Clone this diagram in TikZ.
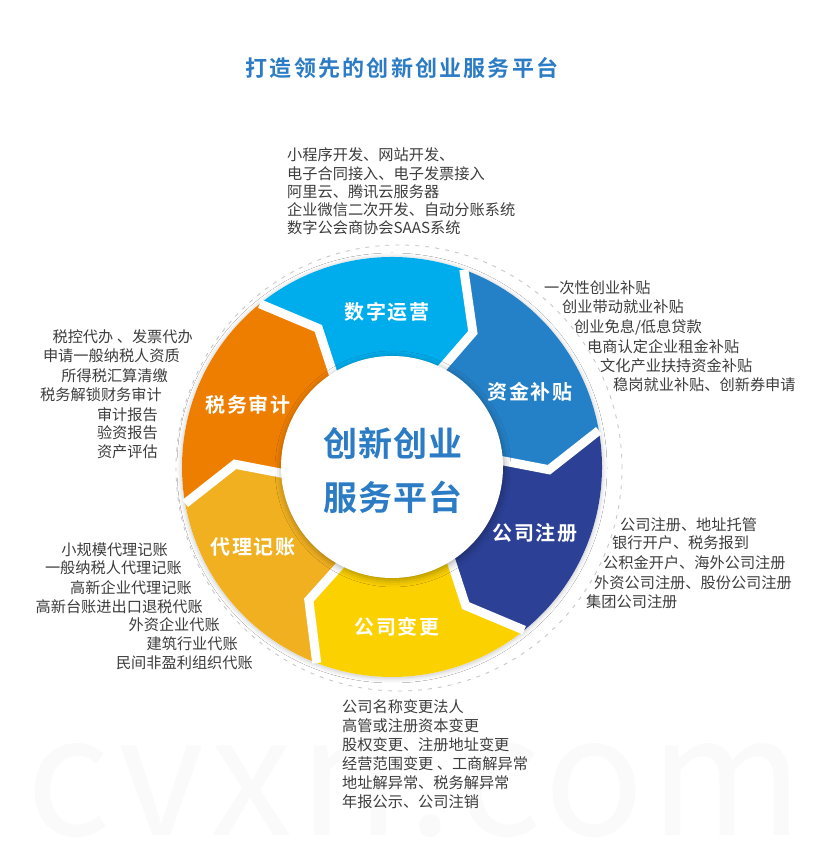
\documentclass[tikz,border=0pt]{standalone}
\usepackage{fontspec}
\setmainfont{Noto Sans CJK SC}[BoldFont={Noto Sans CJK SC Bold}]
\usetikzlibrary{calc, positioning, shadows.blur}

\definecolor{szblue}{HTML}{00ADEC}
\definecolor{zjblue}{HTML}{2581C7}
\definecolor{zcnavy}{HTML}{2C4196}
\definecolor{bgyellow}{HTML}{FCD100}
\definecolor{dlgold}{HTML}{F0B020}
\definecolor{sworange}{HTML}{EE7E00}
\definecolor{titleblue}{HTML}{2B7CC5}
\definecolor{itemgray}{HTML}{3D3D3D}
\definecolor{dashgray}{HTML}{C8C8C8}

\newcommand{\ringout}{210}
\newcommand{\ringmid}{157}
\newcommand{\ringin}{105}

% one arrow piece of the ring, clockwise from angle #1 to angle #2
\newcommand{\ringpiece}[3]{%
  \fill[#3] (#1+6:\ringout) arc[start angle=#1+6, end angle=#2+6, radius=\ringout]
    -- (#2-5:\ringmid) -- (#2:\ringin)
    arc[start angle=#2, end angle=#1, radius=\ringin]
    -- (#1-5:\ringmid) -- cycle;}

\begin{document}
\begin{tikzpicture}[
    x=1pt, y=1pt,
    item/.style={text=itemgray, inner sep=0pt, font=\fontsize{15.2}{15.2}\selectfont},
    piecelabel/.style={text=white, font=\bfseries\fontsize{20}{20}\selectfont\addfontfeature{LetterSpace=8}},
    hubtext/.style={text=titleblue, font=\bfseries\fontsize{34}{34}\selectfont\addfontfeature{LetterSpace=3}},
    hub/.style={circle, fill=white, minimum size=222pt, inner sep=0pt,
        blur shadow={shadow xshift=1pt, shadow yshift=-2pt, shadow blur radius=7pt, shadow opacity=35}}
]
    \fill[white] (0,0) rectangle (831,842);
    \useasboundingbox (0,0) rectangle (831,842);

    % watermark
    \node[text=black!2, anchor=base, font=\fontsize{165}{165}\selectfont\addfontfeature{LetterSpace=4}] (wm) at (415,6) {cvxn.com};

    \node[text=titleblue, font=\bfseries\fontsize{22}{22}\selectfont\addfontfeature{LetterSpace=10}] (title) at (402,774) {打造领先的创新创业服务平台};

    \coordinate (c) at (392,375);
    \coordinate (dc) at (399,374);

    \draw[dashgray, line width=0.9pt, dash pattern=on 4pt off 6pt] (dc) circle[radius=223];
    \fill[white, blur shadow={shadow xshift=0pt, shadow yshift=-1pt, shadow blur radius=5pt, shadow opacity=25}] (c) circle[radius=\ringout];

    % ring
    \begin{scope}[shift={(c)}]
        \ringpiece{123}{64}{szblue}
        \ringpiece{64}{4}{zjblue}
        \ringpiece{4}{-57}{zcnavy}
        \ringpiece{-57}{-117}{bgyellow}
        \ringpiece{-117}{-176}{dlgold}
        \ringpiece{184}{123}{sworange}
        \foreach \a in {123,64,4,-57,-117,184}
            \draw[white, line width=9pt] (\a+6:\ringout) -- (\a-5:\ringmid) -- (\a:\ringin);
    \end{scope}

    \node[hub] (hub) at (c) {};
    \node[hubtext] (hubtop) at (393,399) {创新创业};
    \node[hubtext] (hubbot) at (393,345) {服务平台};

    \node[piecelabel] (sz) at (387,530) {数字运营};
    \node[piecelabel] (zj) at (530,450) {资金补贴};
    \node[piecelabel] (zc) at (535,309) {公司注册};
    \node[piecelabel] (bg) at (397,215) {公司变更};
    \node[piecelabel] (dl) at (253,295) {代理记账};
    \node[piecelabel] (sw) at (248,437) {税务审计};

    % top
    \foreach \t [count=\i from 0] in {小程序开发、网站开发、, 电子合同接入、电子发票接入, 阿里云、腾讯云服务器, 企业微信二次开发、自动分账系统, 数字公会商协会SAAS系统}
        \node[item, anchor=west] (szitem\i) at (287,{687-18.3*\i}) {\t};

    % right
    \foreach \x/\y/\t [count=\i] in {544/554/{一次性创业补贴}, 562/535/{创业带动就业补贴}, 574/515/{创业免息/低息贷款}, 587/495/{电商认定企业租金补贴}, 600/476/{文化产业扶持资金补贴}, 613/457/{稳岗就业补贴、创新券申请}}
        \node[item, anchor=west] (zjitem\i) at (\x,\y) {\t};

    % lower right
    \foreach \x/\y/\t [count=\i] in {620/317/{公司注册、地址托管}, 612/299/{银行开户、税务报到}, 603/279/{公积金开户、海外公司注册}, 594/259/{外资公司注册、股份公司注册}, 586/240/{集团公司注册}}
        \node[item, anchor=west] (zcitem\i) at (\x,\y) {\t};

    % bottom
    \foreach \t [count=\i from 0] in {公司名称变更法人, 高管或注册资本变更, 股权变更、注册地址变更, 经营范围变更 、工商解异常, 地址解异常、税务解异常, 年报公示、公司注销}
        \node[item, anchor=west] (bgitem\i) at (342,{135-19*\i}) {\t};

    % lower left
    \foreach \x/\y/\t [count=\i] in {168/292/{小规模代理记账}, 182/274/{一般纳税人代理记账}, 192/254/{高新企业代理记账}, 203/235/{高新台账进出口退税代账}, 220/217/{外资企业代账}, 238/198/{建筑行业代账}, 253/179/{民间非盈利组织代账}}
        \node[item, anchor=east] (dlitem\i) at (\x,\y) {\t};

    % left
    \foreach \x/\y/\t [count=\i] in {193/505/{税控代办 、发票代办}, 180/486/{申请一般纳税人资质}, 168/466/{所得税汇算清缴}, 162/447/{税务解锁财务审计}, 158/427/{审计报告}, 158/409/{验资报告}, 158/390/{资产评估}}
        \node[item, anchor=east] (switem\i) at (\x,\y) {\t};
\end{tikzpicture}
\end{document}
